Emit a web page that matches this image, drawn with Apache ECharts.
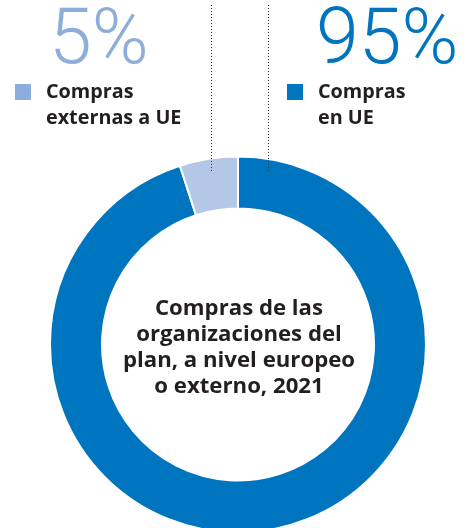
<!DOCTYPE html>
<html>
<head>
<meta charset="utf-8">
<script src="https://cdn.jsdelivr.net/npm/echarts@6/dist/echarts.min.js"></script>
<style>html,body{margin:0;padding:0;background:#fff}#c{width:466px;height:528px}</style>
</head>
<body>
<div id="c"></div>
<script>
// Data
const categories = ['Compras en UE', 'Compras externas a UE'];
const legendLines = [['Compras', 'en UE'], ['Compras', 'externas a UE']];
const values = [95, 5];
const centerTitle = ['Compras de las', 'organizaciones del', 'plan, a nivel europeo', 'o externo, 2021'];

const sliceColors = ['#0075BF', '#B3C8E7'];
const keyColors = ['#0075BF', '#8DAEDB'];
const pctColors = ['#0075BF', '#8DAEDB'];

const chart = echarts.init(document.getElementById('c'));
const bold = '"Open Sans", "Noto Sans", sans-serif';
const light = 'Roboto, "Open Sans", sans-serif';

const graphic = [];
// percentages
graphic.push({type:'text', z: 10, x: 49, y: 5, style:{text: values[1] + '%', font: '300 77px ' + light, fill: pctColors[1], verticalAlign: 'top'}});
graphic.push({type:'text', z: 10, x: 316, y: 5, style:{text: values[0] + '%', font: '300 77px ' + light, fill: pctColors[0], verticalAlign: 'top'}});
// keys
graphic.push({type:'rect', z:10, shape:{x:15, y:84, width:16, height:16}, style:{fill: keyColors[1]}});
graphic.push({type:'rect', z:10, shape:{x:287, y:84, width:16, height:16}, style:{fill: keyColors[0]}});
graphic.push({type:'text', z:10, left: 46, top: 79, style:{text: legendLines[1].join('\n'), font:'bold 19.8px ' + bold, fill:'#231F20', lineHeight: 26}});
graphic.push({type:'text', z:10, left: 318, top: 79, style:{text: legendLines[0].join('\n'), font:'bold 19.8px ' + bold, fill:'#231F20', lineHeight: 26}});
// dotted leader lines
graphic.push({type:'line', z:10, shape:{x1:211.5, y1:5, x2:211.5, y2:172}, style:{stroke:'#333', lineWidth:1, lineDash:[1,2]}});
graphic.push({type:'line', z:10, shape:{x1:268.5, y1:5, x2:268.5, y2:172}, style:{stroke:'#333', lineWidth:1, lineDash:[1,2]}});
// center text
graphic.push({type:'text', z:10, x: 239, y: 348, style:{text: centerTitle.join('\n'), font:'bold 22.2px ' + bold, fill:'#231F20', lineHeight: 26, align:'center', verticalAlign:'middle'}});

chart.setOption({
  animation: false,
  series: [{
    type: 'pie',
    center: [238, 344.5],
    radius: [136, 188],
    startAngle: 90,
    clockwise: true,
    label: {show: false},
    labelLine: {show: false},
    silent: true,
    itemStyle: {borderColor: '#fff', borderWidth: 2},
    data: categories.map((c, i) => ({name: c, value: values[i], itemStyle: {color: sliceColors[i]}}))
  }],
  graphic: graphic
});
</script>
</body>
</html>
